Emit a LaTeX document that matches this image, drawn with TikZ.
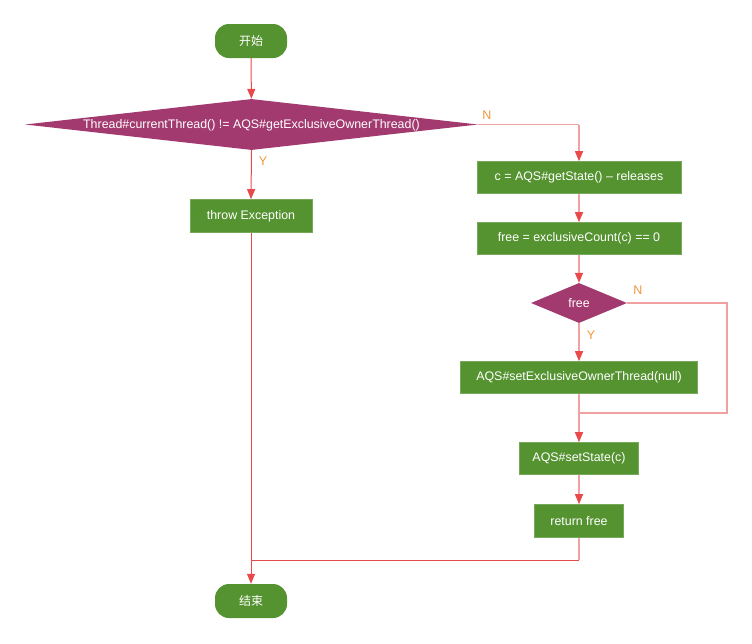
\documentclass[tikz,border=0pt]{standalone}
\usepackage{fontspec}
\setmainfont{Liberation Sans}
\newfontfamily\cjk{Noto Sans CJK SC}
\usetikzlibrary{shapes.geometric,arrows.meta}
\definecolor{boxgreen}{HTML}{559331}
\definecolor{decpurple}{HTML}{A23A6F}
\definecolor{linered}{HTML}{E84A4C}
\definecolor{linepink}{HTML}{F2A1A1}
\definecolor{lblorange}{HTML}{F0963C}
\tikzset{
  procbox/.style={rectangle, fill=boxgreen, draw=boxgreen!80!white, line width=0.6pt, text=white, font=\fontsize{12.4}{14}\selectfont, minimum height=32pt, inner sep=0pt},
  termbox/.style={rectangle, rounded corners=14pt, fill=boxgreen, text=white, font=\cjk\fontsize{12}{14}\selectfont, minimum width=72pt, minimum height=34pt, inner sep=0pt},
  decbox/.style={diamond, fill=decpurple, text=white, inner sep=0pt},
  dectext/.style={text=white, font=\fontsize{12.4}{14}\selectfont},
  redline/.style={draw=linered, line width=1pt},
  pinkline/.style={draw=linepink, line width=1.3pt},
  tip/.style={-{Triangle[width=8pt,length=10pt,color=linered]}},
  lbl/.style={text=lblorange, font=\fontsize{12.5}{14}\selectfont}
}
\begin{document}
\begin{tikzpicture}[x=1pt,y=-1pt]
\useasboundingbox (0,0) rectangle (752,643);
\node[termbox] (start) at (251,41) {开始};
\node[decbox, minimum width=453pt, minimum height=51pt, shape aspect=8.9] (d1) at (251.5,124.5) {};
\node[dectext] (d1t) at (251.5,125.5) {Thread\#currentThread() != AQS\#getExclusiveOwnerThread()};
\node[procbox, minimum width=122pt, minimum height=33pt] (throw) at (251,216) {throw Exception};
\node[procbox, minimum width=204pt] (c) at (579,177.5) {c = AQS\#getState() -- releases};
\node[procbox, minimum width=204pt] (free) at (579,238.5) {free = exclusiveCount(c) == 0};
\node[decbox, minimum width=96pt, minimum height=40pt, shape aspect=2.4] (d2) at (579,303) {};
\node[dectext] (d2t) at (579,303.5) {free};
\node[procbox, minimum width=237pt] (owner) at (579,377.5) {AQS\#setExclusiveOwnerThread(null)};
\node[procbox, minimum width=119pt] (setst) at (579,458.5) {AQS\#setState(c)};
\node[procbox, minimum width=89pt, minimum height=33pt] (ret) at (579,521) {return free};
\node[termbox] (end) at (251,601) {结束};

\coordinate (cN) at (579,124.5);
\coordinate (loopc) at (727,413);
\coordinate (join) at (579,413);
\coordinate (botR) at (579,560);
\coordinate (botL) at (251,560);

\path[redline, tip] (start) -- (d1);
\path[pinkline] (d1.east) -- (cN);
\path[pinkline, tip] (cN) -- (c.north);
\path[pinkline, tip] (c) -- (free);
\path[pinkline, tip] (free) -- (d2);
\path[pinkline, tip] (d2) -- (owner);
\path[pinkline] (d2.east) -| (loopc) -- (join);
\path[pinkline] (owner.south) -- (join);
\path[pinkline, tip] (join) -- (setst.north);
\path[pinkline, tip] (setst) -- (ret);
\path[pinkline] (ret.south) -- (botR);
\path[redline] (botR) -- (botL);
\path[redline, tip] (botL) -- (end.north);
\path[redline, tip] (d1.south) -- (throw.north);
\path[redline] (throw.south) -- (botL);

\node[lbl] (n1) at (487,115) {N};
\node[lbl] (y1) at (263,161) {Y};
\node[lbl] (n2) at (638,290) {N};
\node[lbl] (y2) at (591,335) {Y};
\end{tikzpicture}
\end{document}
